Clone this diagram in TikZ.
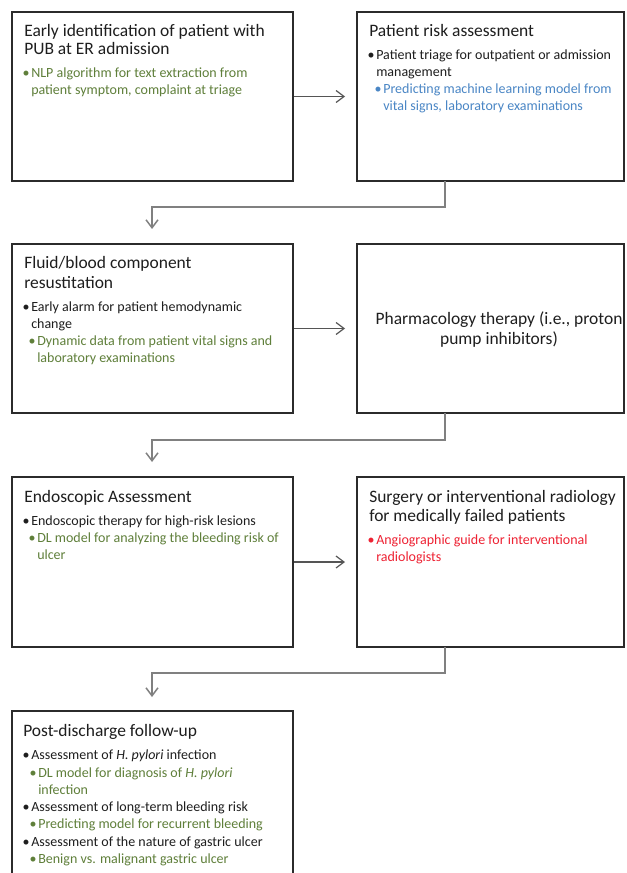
\documentclass[tikz,border=0pt]{standalone}
\usepackage{fontspec}
\setmainfont{Carlito}
\usetikzlibrary{arrows.meta,fit}
\definecolor{txt}{HTML}{1E1E1E}
\definecolor{grn}{HTML}{5F7F3A}
\definecolor{blu}{HTML}{4A86C5}
\definecolor{rd}{HTML}{EE2233}
\definecolor{boxc}{HTML}{2B2B2B}
\definecolor{conc}{HTML}{808080}
\definecolor{arrc}{HTML}{555555}
\newcommand\ttlfont{\fontsize{13.1pt}{15pt}\selectfont}
\newcommand\bdyfont{\fontsize{10.5pt}{12.6pt}\selectfont}
\newcommand\bul{\llap{\textbullet\kern1.2pt}}
\begin{document}
\begin{tikzpicture}[x=0.75pt,y=-0.75pt,
  boxn/.style={draw=boxc, line width=1.5pt, inner sep=0pt},
  tl/.style={anchor=base west, inner sep=0pt, text=txt, font=\ttlfont},
  bl/.style={anchor=base west, inner sep=0pt, text=txt, font=\bdyfont},
  gl/.style={bl, text=grn},
  ul/.style={bl, text=blu},
  rl/.style={bl, text=rd},
  harr/.style={draw=arrc, line width=0.9pt, -{Straight Barb[length=6pt,width=9pt]}},
  conn/.style={draw=conc, line width=1.1pt, -{Straight Barb[length=6pt,width=9pt]}}
]
\useasboundingbox (0,0) rectangle (626,873);
\clip (0,0) rectangle (626,873);
\fill[white] (0,0) rectangle (626,873);

% boxes
\node[boxn, fit={(12,12) (293,181)}] (b1) {};
\node[boxn, fit={(357,12) (624,181)}] (b2) {};
\node[boxn, fit={(12,244) (293,413)}] (b3) {};
\node[boxn, fit={(357,244) (624,413)}] (b4) {};
\node[boxn, fit={(12,477) (293,647)}] (b5) {};
\node[boxn, fit={(357,477) (624,647)}] (b6) {};
\node[boxn, fit={(12,711) (293,895)}] (b7) {};

% box 1
\node[tl] (a1) at (24,37) {Early identification of patient with};
\node[tl] (a2) at (24,55) {PUB at ER admission};
\node[gl] (a3) at (31,78) {\bul NLP algorithm for text extraction from};
\node[gl] (a4) at (31,95) {patient symptom, complaint at triage};

% box 2
\node[tl] (p1) at (369,37) {Patient risk assessment};
\node[bl] (p2) at (376,60) {\bul Patient triage for outpatient or admission};
\node[bl] (p3) at (376,77) {management};
\node[ul] (p4) at (383,94) {\bul Predicting machine learning model from};
\node[ul] (p5) at (383,111) {vital signs, laboratory examinations};

% box 3
\node[tl] (f1) at (24,269) {Fluid/blood component};
\node[tl] (f2) at (24,288) {resustitation};
\node[bl] (f3) at (31,311) {\bul Early alarm for patient hemodynamic};
\node[bl] (f4) at (31,328) {change};
\node[gl] (f5) at (37,345) {\bul Dynamic data from patient vital signs and};
\node[gl] (f6) at (37,362) {laboratory examinations};

% box 4
\node[tl, anchor=base] (h1) at (499,324) {Pharmacology therapy (i.e., proton};
\node[tl, anchor=base] (h2) at (499,344) {pump inhibitors)};

% box 5
\node[tl] (e1) at (24,502) {Endoscopic Assessment};
\node[bl] (e2) at (31,525) {\bul Endoscopic therapy for high-risk lesions};
\node[gl] (e3) at (37,542) {\bul DL model for analyzing the bleeding risk of};
\node[gl] (e4) at (37,559) {ulcer};

% box 6
\node[tl] (s1) at (369,502) {Surgery or interventional radiology};
\node[tl] (s2) at (369,521) {for medically failed patients};
\node[rl] (s3) at (376,544) {\bul Angiographic guide for interventional};
\node[rl] (s4) at (376,561) {radiologists};

% box 7
\node[tl] (d1) at (23,736) {Post-discharge follow-up};
\node[bl] (d2) at (31,759) {\bul Assessment of \textit{H. pylori} infection};
\node[gl] (d3) at (38,777) {\bul DL model for diagnosis of \textit{H. pylori}};
\node[gl] (d4) at (38,794) {infection};
\node[bl] (d5) at (31,811) {\bul Assessment of long-term bleeding risk};
\node[gl] (d6) at (38,828) {\bul Predicting model for recurrent bleeding};
\node[bl] (d7) at (31,846) {\bul Assessment of the nature of gastric ulcer};
\node[gl] (d8) at (38,863) {\bul Benign vs. malignant gastric ulcer};

% horizontal arrows
\draw[harr] (b1.east) -- ++(51,0);
\draw[harr] (b3.east) -- ++(51,0);
\draw[harr] (b5.east) -- ++(51,0);

% connectors
\coordinate (k1s) at (445,181);
\coordinate (k1e) at (152,229);
\coordinate (k2s) at (445,413);
\coordinate (k2e) at (152,462);
\coordinate (k3s) at (445,647);
\coordinate (k3e) at (152,697);
\draw[conn] (k1s) -- ++(0,26) -| (k1e);
\draw[conn] (k2s) -- ++(0,27) -| (k2e);
\draw[conn] (k3s) -- ++(0,26) -| (k3e);
\end{tikzpicture}
\end{document}
